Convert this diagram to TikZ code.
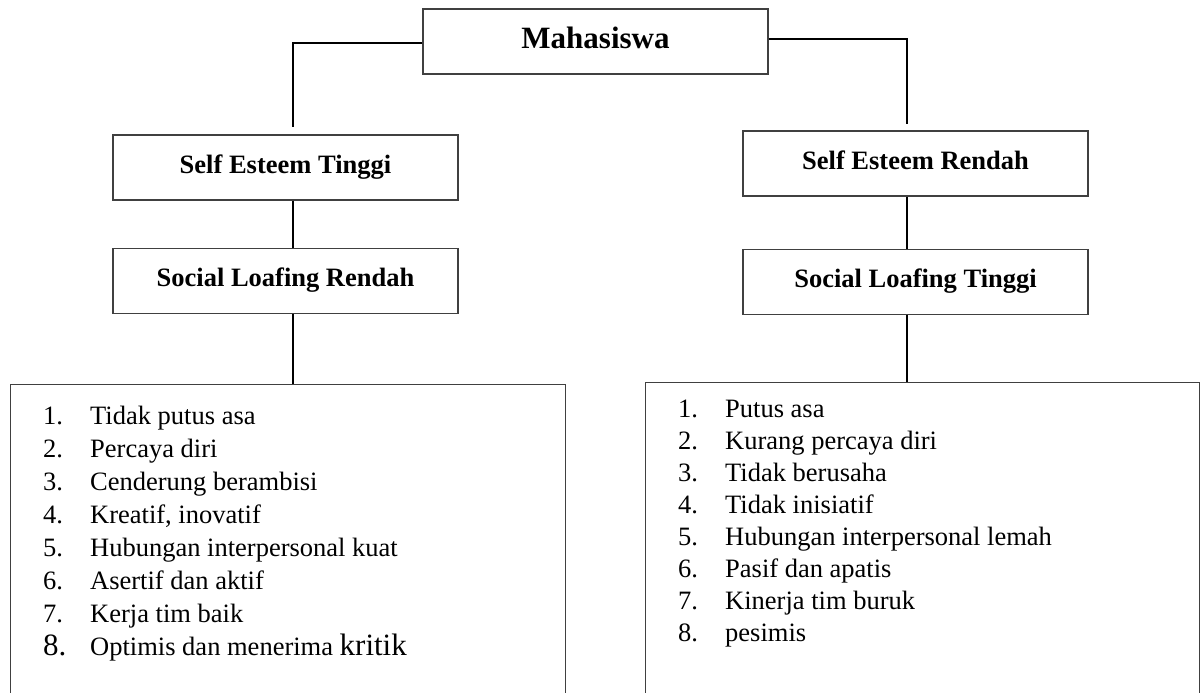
\documentclass[tikz,border=0pt]{standalone}
\usepackage{fontspec}
\setmainfont{Liberation Serif}
\usetikzlibrary{positioning}

\newcommand{\itemnum}[1]{\makebox[47pt][l]{#1}}
\newcommand{\bigsize}{\fontsize{31}{33}\selectfont}

\begin{document}
\begin{tikzpicture}[x=1pt, y=-1pt,
headbox/.style={rectangle, draw=black!75, line width=1.3pt, minimum width=345pt, minimum height=65pt, inner sep=0pt, text depth=7pt, font=\fontsize{26.5}{30}\selectfont\bfseries},
listbox/.style={rectangle, draw=black!75, line width=1.3pt, anchor=north west, minimum height=330pt, inner sep=0pt},
itemlist/.style={anchor=north west, align=left, inner sep=0pt, font=\fontsize{26.5}{33}\selectfont},
itemlistR/.style={itemlist, font=\fontsize{26.5}{32}\selectfont},
link/.style={draw=black, line width=2pt},
]

% Fixed page size and white background
\useasboundingbox (0,0) rectangle (1202,693);
\fill[white] (0,0) rectangle (1202,693);

% Top node
\node[headbox, font=\fontsize{31}{34}\selectfont\bfseries] (mahasiswa) at (595.5,41.5) {Mahasiswa};

% Left branch
\node[headbox]      (esteemtinggi)                        at (285.5,167.5) {Self Esteem Tinggi};
\node[headbox]      (loafingrendah)   [below=47pt of esteemtinggi]       {Social Loafing Rendah};
\node[listbox, minimum width=555pt] (listkiri) at (10,384) {};

% Right branch
\node[headbox]      (esteemrendah)                        at (915.5,163.5) {Self Esteem Rendah};
\node[headbox]      (loafingtinggi)   [below=52pt of esteemrendah]       {Social Loafing Tinggi};
\node[listbox, minimum width=554pt] (listkanan) at (645,382) {};

% Lists
\node[itemlist]  (itemskiri)  [below right=22pt and 33pt of listkiri.north west] {%
\itemnum{1.}Tidak putus asa\\
\itemnum{2.}Percaya diri\\
\itemnum{3.}Cenderung berambisi\\
\itemnum{4.}Kreatif, inovatif\\
\itemnum{5.}Hubungan interpersonal kuat\\
\itemnum{6.}Asertif dan aktif\\
\itemnum{7.}Kerja tim baik\\
\itemnum{\bigsize 8.}Optimis dan menerima {\bigsize kritik}};

\node[itemlistR] (itemskanan) [below right=18pt and 33pt of listkanan.north west] {%
\itemnum{1.}Putus asa\\
\itemnum{2.}Kurang percaya diri\\
\itemnum{3.}Tidak berusaha\\
\itemnum{4.}Tidak inisiatif\\
\itemnum{5.}Hubungan interpersonal lemah\\
\itemnum{6.}Pasif dan apatis\\
\itemnum{7.}Kinerja tim buruk\\
\itemnum{8.}pesimis};

% Junction points of the connectors
\coordinate (jalurkiri)  at (293,43);
\coordinate (jalurkanan) at (907,39);

\draw[link] (mahasiswa.west |- jalurkiri) -- (jalurkiri) -- ([yshift=7pt]esteemtinggi.north -| jalurkiri);
\draw[link] (esteemtinggi.south -| jalurkiri) -- (loafingrendah.north -| jalurkiri);
\draw[link] (loafingrendah.south -| jalurkiri) -- (listkiri.north -| jalurkiri);

\draw[link] (mahasiswa.east |- jalurkanan) -- (jalurkanan) -- ([yshift=6pt]esteemrendah.north -| jalurkanan);
\draw[link] (esteemrendah.south -| jalurkanan) -- (loafingtinggi.north -| jalurkanan);
\draw[link] (loafingtinggi.south -| jalurkanan) -- (listkanan.north -| jalurkanan);
\end{tikzpicture}
\end{document}
